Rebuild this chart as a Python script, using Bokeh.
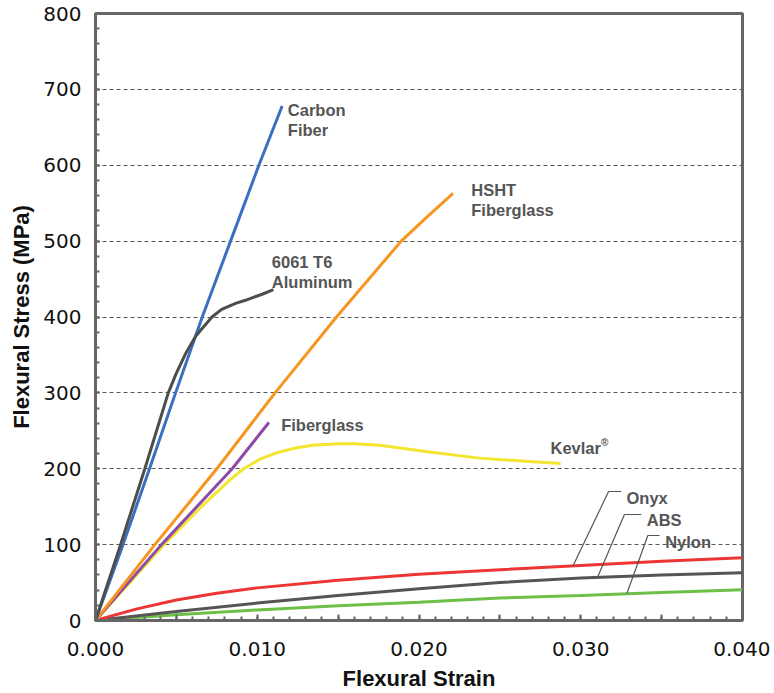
from bokeh.plotting import figure
from bokeh.models import FixedTicker, CustomJSTickFormatter, Range1d
from bokeh.core.properties import value
from bokeh.embed import file_html
from bokeh.resources import INLINE

# ---- data (strain, stress MPa) ----
carbon_x = [0.0, 0.0017, 0.00334, 0.00495, 0.0066, 0.00835, 0.0101, 0.01154]
carbon_y = [0, 100, 200, 300, 400, 500, 600, 678]

alum_x = [0.0, 0.00155, 0.00305, 0.0045, 0.0050, 0.0056, 0.0062, 0.0072, 0.0078, 0.00866, 0.00927, 0.0103, 0.0110]
alum_y = [0, 100, 200, 300, 326, 353, 375, 400, 410, 418, 422, 430, 436]

hsht_x = [0.0, 0.00367, 0.0075, 0.0111, 0.0149, 0.0189, 0.0204, 0.0221]
hsht_y = [0, 100, 200, 300, 400, 500, 530, 563]

fg_x = [0.0, 0.00408, 0.00845, 0.01072]
fg_y = [0, 100, 200, 261]

kev_x = [0.0, 0.00423, 0.00655, 0.0083, 0.00915, 0.0102, 0.0112, 0.0123, 0.0134, 0.0150, 0.0160, 0.01756, 0.02065, 0.02374, 0.02683, 0.02875]
kev_y = [0, 100, 150, 185, 200, 213, 221, 227, 231, 233, 233, 231, 222, 214, 209.5, 207]

onyx_x = [0.0, 0.0025, 0.005, 0.0075, 0.010, 0.015, 0.020, 0.025, 0.030, 0.035, 0.040]
onyx_y = [0, 15, 27, 36, 43, 53, 61, 67, 72.5, 78, 82.6]

abs_x = [0.0, 0.005, 0.010, 0.015, 0.020, 0.025, 0.030, 0.035, 0.040]
abs_y = [0, 12, 23, 33, 42, 50, 56, 60, 62.8]

nylon_x = [0.0, 0.005, 0.010, 0.015, 0.020, 0.025, 0.030, 0.035, 0.040]
nylon_y = [0, 7.5, 14, 19.5, 24, 29.5, 33, 37, 40.4]

# labels: text lines, anchor x, baseline y
label_text = ["Carbon", "Fiber", "6061 T6", "Aluminum", "HSHT", "Fiberglass",
              "Fiberglass", "Kevlar", "Onyx", "ABS", "Nylon"]
label_x = [0.01189, 0.01189, 0.0109, 0.0109, 0.02323, 0.02323,
           0.01148, 0.02813, 0.03283, 0.03408, 0.03522]
label_y = [672.3, 646.0, 472.6, 445.7, 567.9, 541.5,
           258.2, 227.5, 162.1, 132.1, 103.7]

# leader lines for the low curves
onyx_lead_x = [0.0325, 0.03172, 0.02951]
onyx_lead_y = [170, 170, 71.5]
abs_lead_x = [0.03374, 0.0327, 0.03105]
abs_lead_y = [139.7, 139.7, 57.6]
nylon_lead_x = [0.03487, 0.03415, 0.03285]
nylon_lead_y = [112, 112, 35.6]

x_ticks = [0.0, 0.005, 0.010, 0.015, 0.020, 0.025, 0.030, 0.035, 0.040]
x_minor = [i / 1000 for i in range(0, 41)]
y_ticks = [0, 100, 200, 300, 400, 500, 600, 700, 800]
y_minor = list(range(0, 801, 20))

TICKFONT = "DejaVu Sans"
FONT = "Liberation Sans"
AX = "#666666"
TXT = "#555555"

p = figure(output_backend="svg", toolbar_location=None,
           x_range=Range1d(0, 0.040), y_range=Range1d(0, 800),
           frame_width=647, frame_height=607,
           min_border_left=95, min_border_right=28, min_border_top=13, min_border_bottom=73)

p.outline_line_color = AX
p.outline_line_width = 3
p.xgrid.visible = False
p.ygrid.grid_line_color = "#555555"
p.ygrid.grid_line_dash = "4 3"
p.ygrid.grid_line_width = 1
p.ygrid.ticker = FixedTicker(ticks=y_ticks)

p.xaxis.ticker = FixedTicker(ticks=x_ticks, minor_ticks=x_minor)
p.xaxis.formatter = CustomJSTickFormatter(
    code="return (Math.round(tick*1000) % 10 == 0) ? tick.toFixed(3) : '';")
p.yaxis.ticker = FixedTicker(ticks=y_ticks, minor_ticks=y_minor)

for ax in (p.xaxis, p.yaxis):
    ax.axis_line_color = AX
    ax.axis_line_width = 3
    ax.major_tick_line_color = AX
    ax.minor_tick_line_color = AX
    ax.major_tick_line_width = 2
    ax.minor_tick_line_width = 2
    ax.major_tick_in = 6
    ax.major_tick_out = 0
    ax.minor_tick_in = 4
    ax.minor_tick_out = 0
    ax.major_label_text_font = TICKFONT
    ax.major_label_text_font_size = "20px"
    ax.major_label_text_color = "#111111"
    ax.axis_label_text_font = FONT
    ax.axis_label_text_font_size = "22px"
    ax.axis_label_text_font_style = "bold"
    ax.axis_label_text_color = "#111111"

p.yaxis.major_tick_in = 4
p.yaxis.minor_tick_in = 4
p.xaxis.axis_label = "Flexural Strain"
p.yaxis.axis_label = "Flexural Stress (MPa)"
p.xaxis.major_label_standoff = 21
p.yaxis.major_label_standoff = 14
p.xaxis.axis_label_standoff = 7
p.yaxis.axis_label_standoff = 6

W = 3
p.line(nylon_x, nylon_y, line_color="#6cbf47", line_width=W)
p.line(abs_x, abs_y, line_color="#555555", line_width=W)
p.line(onyx_x, onyx_y, line_color="#ee3535", line_width=W)
p.line(kev_x, kev_y, line_color="#f3e631", line_width=W)
p.line(fg_x, fg_y, line_color="#8e4aa8", line_width=W)
p.line(hsht_x, hsht_y, line_color="#f7951f", line_width=W)
p.line(carbon_x, carbon_y, line_color="#3b6fc0", line_width=W)
p.line(alum_x, alum_y, line_color="#4d4d4d", line_width=W)

for lx, ly in ((onyx_lead_x, onyx_lead_y), (abs_lead_x, abs_lead_y), (nylon_lead_x, nylon_lead_y)):
    p.line(lx, ly, line_color="#555555", line_width=1.2)

p.text(x=label_x, y=label_y, text=label_text, text_font=value(FONT),
       text_font_size="16.5px", text_font_style="bold", text_color=TXT,
       text_baseline="alphabetic", text_align="left")
# registered mark after Kevlar
p.text(x=[0.02813], y=[227.5], text=["®"], text_font=value(FONT),
       text_font_size="10px", text_font_style="bold", text_color=TXT,
       text_baseline="alphabetic", text_align="left", x_offset=50.5, y_offset=-5)

open("out.html", "w").write(file_html(p, INLINE))
